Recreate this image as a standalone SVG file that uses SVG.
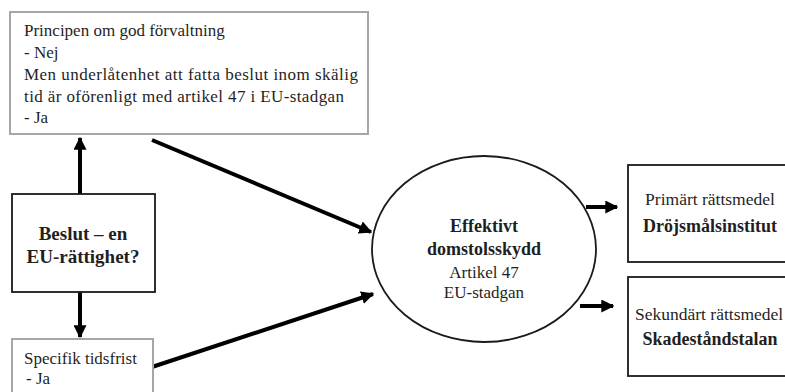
<svg xmlns="http://www.w3.org/2000/svg" width="785" height="392" viewBox="0 0 785 392">
  <style>
    text { font-family: "Liberation Serif", "DejaVu Serif", "Times New Roman", serif; fill: #1f1f1f; }
    .t { font-size: 17px; }
    .s { font-size: 17.5px; }
    .b { font-size: 19px; font-weight: bold; }
    .bb { font-size: 18px; font-weight: bold; }
    .c { text-anchor: middle; }
    .gray { fill: #fff; stroke: #a6a6a6; stroke-width: 2; }
    .dark { fill: #fff; stroke: #1a1a1a; stroke-width: 1.8; }
    .edge { stroke: #000; stroke-width: 4; fill: none; marker-end: url(#head); }
  </style>
  <defs>
    <marker id="head" viewBox="0 0 10 10" refX="9" refY="5" markerUnits="userSpaceOnUse" markerWidth="13" markerHeight="13" orient="auto">
      <path d="M0,0 L10,5 L0,10 z" fill="#000"/>
    </marker>
  </defs>

  <g id="connectors">
    <line class="edge" x1="80" y1="194" x2="80" y2="138"/>
    <line class="edge" x1="80" y1="292" x2="80" y2="337"/>
    <line class="edge" x1="152" y1="140" x2="371" y2="232"/>
    <line class="edge" x1="152" y1="367" x2="373" y2="294"/>
    <line class="edge" x1="586" y1="207" x2="617" y2="207"/>
    <line class="edge" x1="580" y1="306" x2="613" y2="306"/>
  </g>

  <g id="principle">
    <rect class="gray" x="10" y="12" width="358" height="122"/>
    <text class="t" x="24" y="36">Principen om god förvaltning</text>
    <text class="t" x="24" y="58">- Nej</text>
    <text class="t" x="24" y="80" textLength="334" lengthAdjust="spacing">Men underlåtenhet att fatta beslut  inom skälig</text>
    <text class="t" x="24" y="102" textLength="320" lengthAdjust="spacing">tid är oförenligt med artikel 47 i EU-stadgan</text>
    <text class="t" x="24" y="123">- Ja</text>
  </g>

  <g id="decision">
    <rect class="dark" x="12" y="194" width="143" height="98"/>
    <text class="b c" x="83" y="240">Beslut – en</text>
    <text class="b c" x="83" y="263">EU-rättighet?</text>
  </g>

  <g id="deadline">
    <rect class="gray" x="12" y="339" width="141" height="60"/>
    <text class="t" x="24" y="364">Specifik tidsfrist</text>
    <text class="t" x="26" y="384">- Ja</text>
  </g>

  <g id="protection">
    <ellipse cx="484" cy="249" rx="112" ry="93" fill="#fff" stroke="#1a1a1a" stroke-width="1.8"/>
    <text class="bb c" x="484" y="232">Effektivt</text>
    <text class="bb c" x="484" y="255">domstolsskydd</text>
    <text class="t c" x="484" y="278">Artikel 47</text>
    <text class="t c" x="484" y="298">EU-stadgan</text>
  </g>

  <g id="primary">
    <rect class="dark" x="628" y="165" width="165" height="97"/>
    <text class="s c" x="710" y="205">Primärt rättsmedel</text>
    <text class="bb c" x="710" y="232">Dröjsmålsinstitut</text>
  </g>

  <g id="secondary">
    <rect class="dark" x="628" y="277" width="165" height="99"/>
    <text class="s" x="635" y="320">Sekundärt rättsmedel</text>
    <text class="bb c" x="710" y="345">Skadeståndstalan</text>
  </g>
</svg>
